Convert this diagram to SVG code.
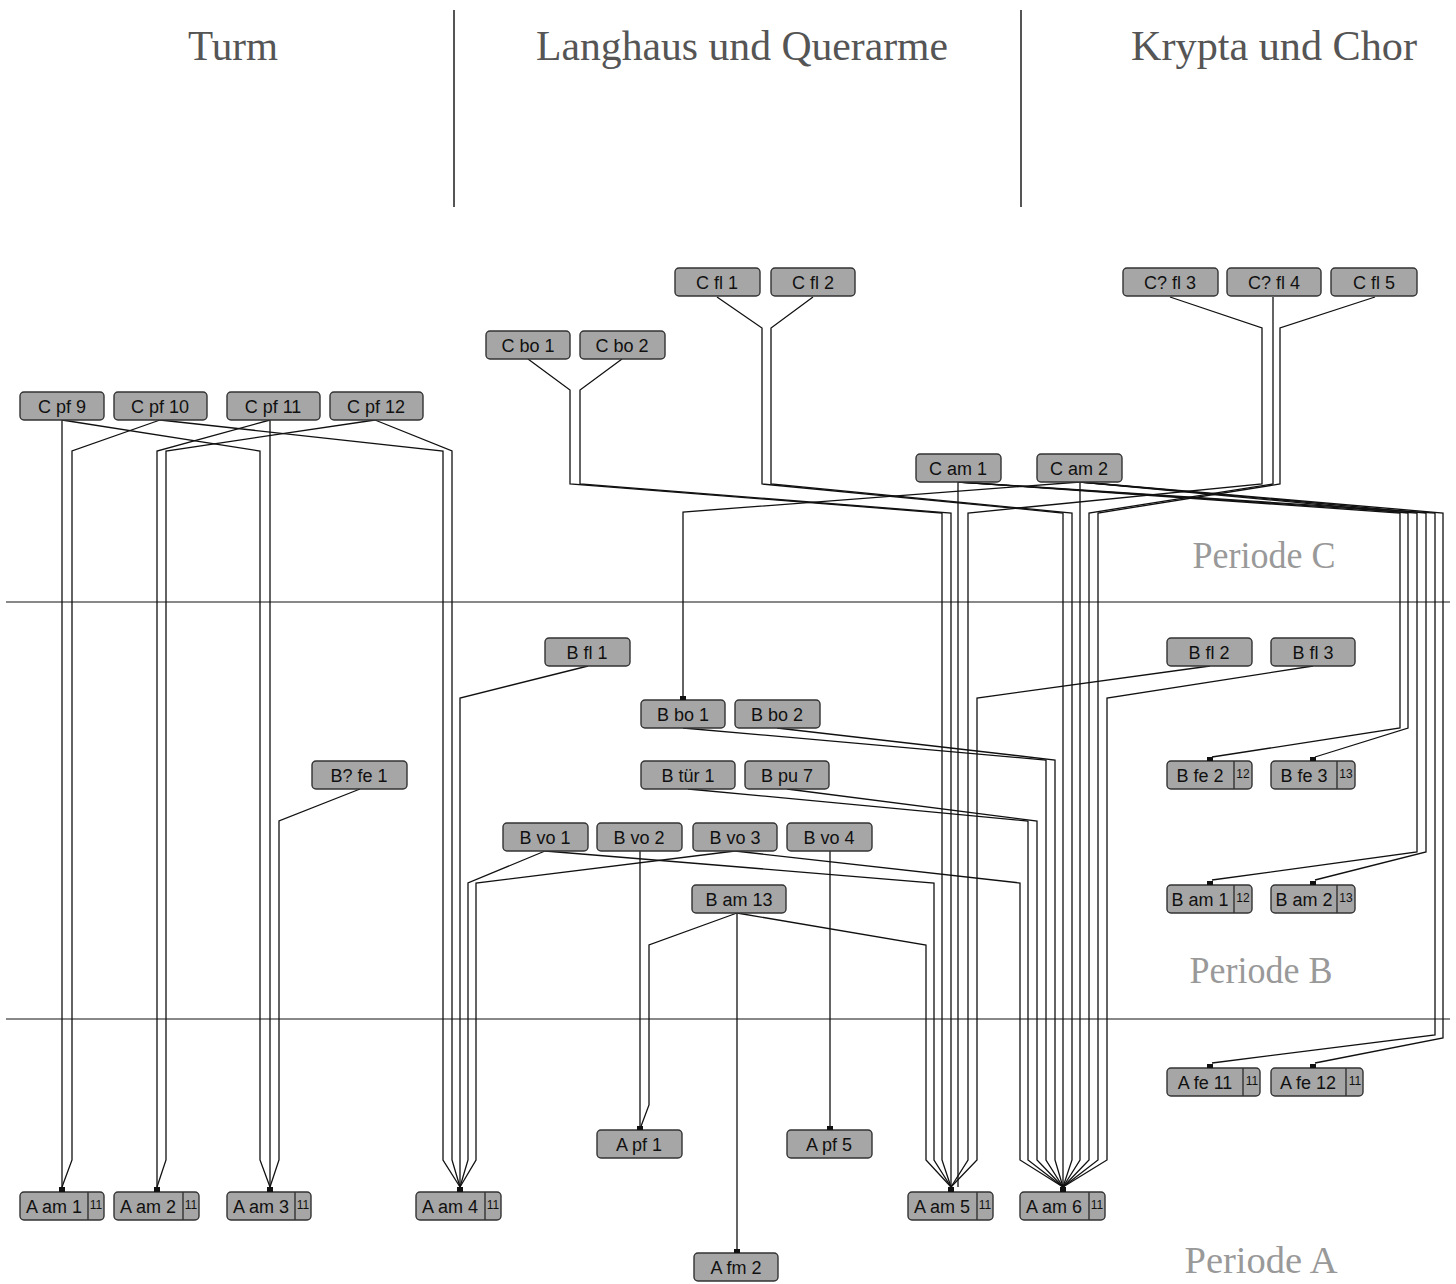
<svg xmlns="http://www.w3.org/2000/svg" width="1456" height="1284" viewBox="0 0 1456 1284">
<style>
.hd{font-family:"Liberation Serif",serif;font-size:42px;fill:#555}
.pd{font-family:"Liberation Serif",serif;font-size:37px;fill:#999}
.bx{fill:#a6a6a6;stroke:#333;stroke-width:1.4}
.lb{font-family:"Liberation Sans",Arial,sans-serif;font-size:18px;fill:#111;text-anchor:middle}
.nm{font-family:"Liberation Sans",Arial,sans-serif;font-size:12px;fill:#111;text-anchor:middle}
.dv{stroke:#333;stroke-width:1.4}
.dt{fill:#111}
.cn path{fill:none;stroke:#111;stroke-width:1.3}
.sep{stroke:#555;stroke-width:2}
.per{stroke:#888;stroke-width:2}
</style>
<rect width="1456" height="1284" fill="#fff"/>
<g id="headers">
<text class="hd" x="233" y="60" text-anchor="middle" textLength="90" lengthAdjust="spacingAndGlyphs">Turm</text>
<text class="hd" x="742" y="60" text-anchor="middle" textLength="412" lengthAdjust="spacingAndGlyphs">Langhaus und Querarme</text>
<text class="hd" x="1274" y="60" text-anchor="middle" textLength="286" lengthAdjust="spacingAndGlyphs">Krypta und Chor</text>
<line class="sep" x1="454" y1="10" x2="454" y2="207"/>
<line class="sep" x1="1021" y1="10" x2="1021" y2="207"/>
</g>
<g id="periods">
<line class="per" x1="6" y1="602" x2="1450" y2="602"/>
<line class="per" x1="6" y1="1019" x2="1450" y2="1019"/>
<text class="pd" x="1264" y="568" text-anchor="middle" textLength="143" lengthAdjust="spacingAndGlyphs">Periode C</text>
<text class="pd" x="1261" y="983" text-anchor="middle" textLength="143" lengthAdjust="spacingAndGlyphs">Periode B</text>
<text class="pd" x="1261" y="1273" text-anchor="middle" textLength="153" lengthAdjust="spacingAndGlyphs">Periode A</text>
</g>
<g class="cn" id="connectors">
<path d="M62,420V1187"/>
<path d="M160,420L72,451V1160L62,1187"/>
<path d="M270,420L157,451V1187"/>
<path d="M375,420L166,451V1160L157,1187"/>
<path d="M62,420L260,451V1160L270,1187"/>
<path d="M270,420V1187"/>
<path d="M160,420L443,451V1160L460,1187"/>
<path d="M375,420L452,451V1160L460,1187"/>
<path d="M360,789L279,821V1160L270,1187"/>
<path d="M588,666L460,698V1187"/>
<path d="M545,851L468,883V1160L460,1187"/>
<path d="M735,851L476,883V1160L460,1187"/>
<path d="M545,851L934,883V1160L951,1187"/>
<path d="M735,851L1020,883V1160L1063,1187"/>
<path d="M640,851V1129"/>
<path d="M830,851V1129"/>
<path d="M737,913L649,945V1105L640,1129"/>
<path d="M737,913V1252"/>
<path d="M737,913L926,945V1160L951,1187"/>
<path d="M683,728L1046,760V1160L1063,1187"/>
<path d="M777,728L1055,760V1160L1063,1187"/>
<path d="M688,789L1028,821V1160L1063,1187"/>
<path d="M787,789L1037,821V1160L1063,1187"/>
<path d="M1210,666L977,698V1160L951,1187"/>
<path d="M1313,666L1107,698V1160L1063,1187"/>
<path d="M958,482V1187"/>
<path d="M1080,482V1160L1063,1187"/>
<path d="M528,359L570,390V484L942,513V1160L951,1187"/>
<path d="M622,359L580,390V484L951,513V1187"/>
<path d="M717,297L762,328V484L1063,513V1187"/>
<path d="M813,297L771,328V484L1072,513V1160L1063,1187"/>
<path d="M1170,297L1262,328V484L968,513V1160L951,1187"/>
<path d="M1273,297V484L1089,513V1160L1063,1187"/>
<path d="M1375,297L1280,328V484L1098,513V1160L1063,1187"/>
<path d="M1080,482L683,512V697"/>
<path d="M958,482L1400,513V728L1212,757"/>
<path d="M1080,482L1408,513V728L1315,757"/>
<path d="M958,482L1417,513V852L1212,880"/>
<path d="M1080,482L1426,513V852L1315,880"/>
<path d="M958,482L1435,513V1035L1212,1063"/>
<path d="M1080,482L1443,513V1038L1315,1063"/>
</g>
<g id="n-cfl1"><rect class="bx" x="675" y="268" width="85" height="28" rx="4"/><text class="lb" x="717" y="289">C fl 1</text></g>
<g id="n-cfl2"><rect class="bx" x="771" y="268" width="84" height="28" rx="4"/><text class="lb" x="813" y="289">C fl 2</text></g>
<g id="n-cfl3"><rect class="bx" x="1123" y="268" width="95" height="28" rx="4"/><text class="lb" x="1170" y="289">C? fl 3</text></g>
<g id="n-cfl4"><rect class="bx" x="1227" y="268" width="94" height="28" rx="4"/><text class="lb" x="1274" y="289">C? fl 4</text></g>
<g id="n-cfl5"><rect class="bx" x="1331" y="268" width="86" height="28" rx="4"/><text class="lb" x="1374" y="289">C fl 5</text></g>
<g id="n-cbo1"><rect class="bx" x="486" y="331" width="84" height="28" rx="4"/><text class="lb" x="528" y="352">C bo 1</text></g>
<g id="n-cbo2"><rect class="bx" x="580" y="331" width="85" height="28" rx="4"/><text class="lb" x="622" y="352">C bo 2</text></g>
<g id="n-cpf9"><rect class="bx" x="20" y="392" width="84" height="28" rx="4"/><text class="lb" x="62" y="413">C pf 9</text></g>
<g id="n-cpf10"><rect class="bx" x="114" y="392" width="93" height="28" rx="4"/><text class="lb" x="160" y="413">C pf 10</text></g>
<g id="n-cpf11"><rect class="bx" x="227" y="392" width="93" height="28" rx="4"/><text class="lb" x="273" y="413">C pf 11</text></g>
<g id="n-cpf12"><rect class="bx" x="330" y="392" width="93" height="28" rx="4"/><text class="lb" x="376" y="413">C pf 12</text></g>
<g id="n-cam1"><rect class="bx" x="916" y="454" width="85" height="28" rx="4"/><text class="lb" x="958" y="475">C am 1</text></g>
<g id="n-cam2"><rect class="bx" x="1037" y="454" width="85" height="28" rx="4"/><text class="lb" x="1079" y="475">C am 2</text></g>
<g id="n-bfl1"><rect class="bx" x="545" y="638" width="85" height="28" rx="4"/><text class="lb" x="587" y="659">B fl 1</text></g>
<g id="n-bfl2"><rect class="bx" x="1167" y="638" width="85" height="28" rx="4"/><text class="lb" x="1209" y="659">B fl 2</text></g>
<g id="n-bfl3"><rect class="bx" x="1271" y="638" width="84" height="28" rx="4"/><text class="lb" x="1313" y="659">B fl 3</text></g>
<g id="n-bbo1"><rect class="bx" x="641" y="700" width="84" height="28" rx="4"/><text class="lb" x="683" y="721">B bo 1</text><rect class="dt" x="680" y="696" width="6" height="4"/></g>
<g id="n-bbo2"><rect class="bx" x="735" y="700" width="85" height="28" rx="4"/><text class="lb" x="777" y="721">B bo 2</text></g>
<g id="n-bfe1"><rect class="bx" x="312" y="761" width="95" height="28" rx="4"/><text class="lb" x="359" y="782">B? fe 1</text></g>
<g id="n-btur1"><rect class="bx" x="641" y="761" width="94" height="28" rx="4"/><text class="lb" x="688" y="782">B tür 1</text></g>
<g id="n-bpu7"><rect class="bx" x="745" y="761" width="84" height="28" rx="4"/><text class="lb" x="787" y="782">B pu 7</text></g>
<g id="n-bfe2"><rect class="bx" x="1167" y="761" width="85" height="28" rx="4"/><line class="dv" x1="1234" y1="761" x2="1234" y2="789"/><text class="lb" x="1200" y="782">B fe 2</text><text class="nm" x="1243" y="778">12</text><rect class="dt" x="1207" y="757" width="6" height="4"/></g>
<g id="n-bfe3"><rect class="bx" x="1271" y="761" width="84" height="28" rx="4"/><line class="dv" x1="1337" y1="761" x2="1337" y2="789"/><text class="lb" x="1304" y="782">B fe 3</text><text class="nm" x="1346" y="778">13</text><rect class="dt" x="1310" y="757" width="6" height="4"/></g>
<g id="n-bvo1"><rect class="bx" x="503" y="823" width="85" height="28" rx="4"/><text class="lb" x="545" y="844">B vo 1</text></g>
<g id="n-bvo2"><rect class="bx" x="597" y="823" width="85" height="28" rx="4"/><text class="lb" x="639" y="844">B vo 2</text></g>
<g id="n-bvo3"><rect class="bx" x="693" y="823" width="84" height="28" rx="4"/><text class="lb" x="735" y="844">B vo 3</text></g>
<g id="n-bvo4"><rect class="bx" x="787" y="823" width="85" height="28" rx="4"/><text class="lb" x="829" y="844">B vo 4</text></g>
<g id="n-bam13"><rect class="bx" x="692" y="885" width="94" height="28" rx="4"/><text class="lb" x="739" y="906">B am 13</text></g>
<g id="n-bam1"><rect class="bx" x="1167" y="885" width="85" height="28" rx="4"/><line class="dv" x1="1234" y1="885" x2="1234" y2="913"/><text class="lb" x="1200" y="906">B am 1</text><text class="nm" x="1243" y="902">12</text><rect class="dt" x="1207" y="881" width="6" height="4"/></g>
<g id="n-bam2"><rect class="bx" x="1271" y="885" width="84" height="28" rx="4"/><line class="dv" x1="1337" y1="885" x2="1337" y2="913"/><text class="lb" x="1304" y="906">B am 2</text><text class="nm" x="1346" y="902">13</text><rect class="dt" x="1310" y="881" width="6" height="4"/></g>
<g id="n-afe11"><rect class="bx" x="1167" y="1068" width="93" height="28" rx="4"/><line class="dv" x1="1243" y1="1068" x2="1243" y2="1096"/><text class="lb" x="1205" y="1089">A fe 11</text><text class="nm" x="1252" y="1085">11</text><rect class="dt" x="1207" y="1064" width="6" height="4"/></g>
<g id="n-afe12"><rect class="bx" x="1271" y="1068" width="92" height="28" rx="4"/><line class="dv" x1="1346" y1="1068" x2="1346" y2="1096"/><text class="lb" x="1308" y="1089">A fe 12</text><text class="nm" x="1355" y="1085">11</text><rect class="dt" x="1310" y="1064" width="6" height="4"/></g>
<g id="n-apf1"><rect class="bx" x="597" y="1130" width="85" height="28" rx="4"/><text class="lb" x="639" y="1151">A pf 1</text><rect class="dt" x="637" y="1126" width="6" height="4"/></g>
<g id="n-apf5"><rect class="bx" x="787" y="1130" width="85" height="28" rx="4"/><text class="lb" x="829" y="1151">A pf 5</text><rect class="dt" x="827" y="1126" width="6" height="4"/></g>
<g id="n-aam1"><rect class="bx" x="20" y="1192" width="84" height="28" rx="4"/><line class="dv" x1="88" y1="1192" x2="88" y2="1220"/><text class="lb" x="54" y="1213">A am 1</text><text class="nm" x="96" y="1209">11</text><rect class="dt" x="59" y="1187" width="6" height="5"/></g>
<g id="n-aam2"><rect class="bx" x="114" y="1192" width="85" height="28" rx="4"/><line class="dv" x1="183" y1="1192" x2="183" y2="1220"/><text class="lb" x="148" y="1213">A am 2</text><text class="nm" x="191" y="1209">11</text><rect class="dt" x="154" y="1187" width="6" height="5"/></g>
<g id="n-aam3"><rect class="bx" x="227" y="1192" width="84" height="28" rx="4"/><line class="dv" x1="295" y1="1192" x2="295" y2="1220"/><text class="lb" x="261" y="1213">A am 3</text><text class="nm" x="303" y="1209">11</text><rect class="dt" x="267" y="1187" width="6" height="5"/></g>
<g id="n-aam4"><rect class="bx" x="416" y="1192" width="85" height="28" rx="4"/><line class="dv" x1="485" y1="1192" x2="485" y2="1220"/><text class="lb" x="450" y="1213">A am 4</text><text class="nm" x="493" y="1209">11</text><rect class="dt" x="457" y="1187" width="6" height="5"/></g>
<g id="n-aam5"><rect class="bx" x="908" y="1192" width="85" height="28" rx="4"/><line class="dv" x1="977" y1="1192" x2="977" y2="1220"/><text class="lb" x="942" y="1213">A am 5</text><text class="nm" x="985" y="1209">11</text><rect class="dt" x="948" y="1187" width="6" height="5"/></g>
<g id="n-aam6"><rect class="bx" x="1020" y="1192" width="85" height="28" rx="4"/><line class="dv" x1="1089" y1="1192" x2="1089" y2="1220"/><text class="lb" x="1054" y="1213">A am 6</text><text class="nm" x="1097" y="1209">11</text><rect class="dt" x="1060" y="1187" width="6" height="5"/></g>
<g id="n-afm2"><rect class="bx" x="694" y="1253" width="84" height="28" rx="4"/><text class="lb" x="736" y="1274">A fm 2</text><rect class="dt" x="734" y="1249" width="6" height="4"/></g>
</svg>
